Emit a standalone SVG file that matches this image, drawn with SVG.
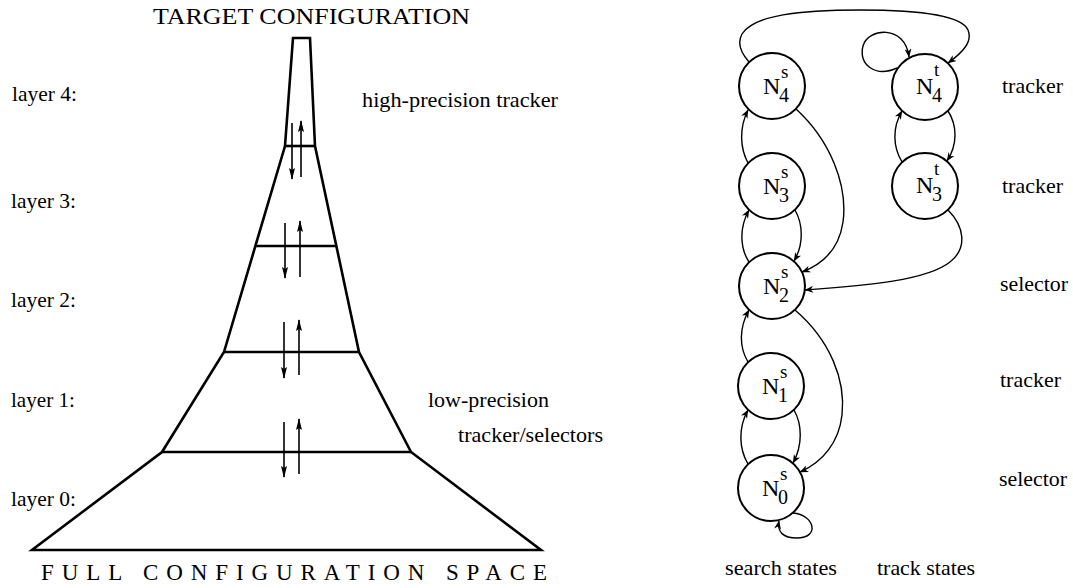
<svg xmlns="http://www.w3.org/2000/svg" width="1073" height="588" viewBox="0 0 1073 588" font-family="'Liberation Serif', 'DejaVu Serif', serif">
<style>
text{font-family:'Liberation Serif','DejaVu Serif',serif;fill:#000}
.lbl{font-size:21px}
.big{font-size:24px}
.sup{font-size:19px}
.sub{font-size:20px}
.node circle{fill:none;stroke:#000;stroke-width:2}
.edge{fill:none;stroke:#000;stroke-width:1.4;marker-end:url(#ah)}
.fun{fill:none;stroke:#000;stroke-width:2.6;stroke-linejoin:miter}
.farr{stroke:#000;stroke-width:1.6;marker-end:url(#fa)}
</style>
<defs>
<marker id="ah" viewBox="0 0 10 8" refX="9.5" refY="4" markerWidth="9" markerHeight="7" orient="auto" markerUnits="userSpaceOnUse"><path d="M0,0 L10,4 L0,8 L3,4 z" fill="#000"/></marker>
<marker id="fa" viewBox="0 0 12 6" refX="11" refY="3" markerWidth="12" markerHeight="6" orient="auto" markerUnits="userSpaceOnUse"><path d="M0,0 L12,3 L0,6 L2,3 z" fill="#000"/></marker>
</defs>
<rect width="1073" height="588" fill="#fff"/>

<g id="funnel">
<text x="153" y="24" font-size="23" textLength="317" lengthAdjust="spacingAndGlyphs">TARGET CONFIGURATION</text>
<polygon class="fun" points="293,38 310,38 315,146 359,352 411,452 541,550 32,550 162,452 224,352 285,146"/>
<line class="fun" x1="285" y1="146" x2="315" y2="146"/>
<line class="fun" x1="255" y1="246" x2="336" y2="246"/>
<line class="fun" x1="224" y1="352" x2="359" y2="352"/>
<line class="fun" x1="162" y1="452" x2="411" y2="452"/>
<line class="farr" x1="292" y1="123" x2="292" y2="179"/>
<line class="farr" x1="301" y1="177" x2="301" y2="121"/>
<line class="farr" x1="285" y1="223" x2="285" y2="278"/>
<line class="farr" x1="300" y1="277" x2="300" y2="221"/>
<line class="farr" x1="284" y1="322" x2="284" y2="378"/>
<line class="farr" x1="299" y1="375" x2="299" y2="320"/>
<line class="farr" x1="284" y1="422" x2="284" y2="477"/>
<line class="farr" x1="299" y1="474" x2="299" y2="419"/>
<text class="lbl" x="12" y="101" textLength="65" lengthAdjust="spacingAndGlyphs">layer 4:</text>
<text class="lbl" x="11" y="208" textLength="65" lengthAdjust="spacingAndGlyphs">layer 3:</text>
<text class="lbl" x="11" y="307" textLength="65" lengthAdjust="spacingAndGlyphs">layer 2:</text>
<text class="lbl" x="11" y="407" textLength="64" lengthAdjust="spacingAndGlyphs">layer 1:</text>
<text class="lbl" x="11" y="506" textLength="65" lengthAdjust="spacingAndGlyphs">layer 0:</text>
<text class="lbl" x="362" y="107" textLength="196" lengthAdjust="spacingAndGlyphs">high-precision tracker</text>
<text class="lbl" x="428" y="407" textLength="121" lengthAdjust="spacingAndGlyphs">low-precision</text>
<text class="lbl" x="458" y="442" textLength="145" lengthAdjust="spacingAndGlyphs">tracker/selectors</text>
<text x="41" y="580" font-size="23" textLength="506" lengthAdjust="spacing">FULL CONFIGURATION SPACE</text>
</g>

<g id="connectors">
<path class="edge" d="M749,62 C741,53 737,43 742,34 C754,15 800,10 860,10 C920,10 962,16 968,30 C973,42 962,53 948,63"/>
<path class="edge" d="M897,68 C875,78 858,64 863,46 C868,28 905,24 909,57"/>
<path class="edge" d="M748,163 C740,148 739,128 748,110"/>
<path class="edge" d="M796,109 C830,140 848,185 843,222 C839,250 823,264 802,272"/>
<path class="edge" d="M795,210 C803,224 804,244 794,261"/>
<path class="edge" d="M749,262 C740,248 739,228 749,210"/>
<path class="edge" d="M948,111 C957,125 958,144 947,161"/>
<path class="edge" d="M902,162 C893,147 892,128 902,111"/>
<path class="edge" d="M948,210 C964,226 968,248 950,262 C925,282 855,286 805,290"/>
<path class="edge" d="M748,362 C739,347 739,328 749,310"/>
<path class="edge" d="M795,310 C830,340 846,380 842,415 C839,442 823,462 800,472"/>
<path class="edge" d="M794,410 C802,424 803,445 793,463"/>
<path class="edge" d="M748,464 C739,449 738,428 748,410"/>
<path class="edge" d="M793,513 C815,515 820,538 797,538 C783,538 777,532 779,521"/>
</g>

<g id="N4s" class="node"><circle cx="772" cy="86" r="33"/><text class="big" x="763" y="94">N</text><text class="sup" x="781" y="78">s</text><text class="sub" x="779" y="102">4</text></g>
<g id="N3s" class="node"><circle cx="772" cy="186" r="33"/><text class="big" x="763" y="194">N</text><text class="sup" x="781" y="178">s</text><text class="sub" x="779" y="202">3</text></g>
<g id="N2s" class="node"><circle cx="772" cy="286" r="33"/><text class="big" x="763" y="294">N</text><text class="sup" x="781" y="278">s</text><text class="sub" x="779" y="302">2</text></g>
<g id="N1s" class="node"><circle cx="771" cy="386" r="33"/><text class="big" x="762" y="394">N</text><text class="sup" x="780" y="378">s</text><text class="sub" x="778" y="402">1</text></g>
<g id="N0s" class="node"><circle cx="771" cy="488" r="33"/><text class="big" x="762" y="496">N</text><text class="sup" x="780" y="480">s</text><text class="sub" x="778" y="504">0</text></g>
<g id="N4t" class="node"><circle cx="925" cy="87" r="33"/><text class="big" x="916" y="94">N</text><text class="sup" x="934" y="76">t</text><text class="sub" x="932" y="102">4</text></g>
<g id="N3t" class="node"><circle cx="925" cy="186" r="33"/><text class="big" x="916" y="193">N</text><text class="sup" x="934" y="175">t</text><text class="sub" x="932" y="201">3</text></g>

<g id="state-labels">
<text class="lbl" x="1002" y="93" textLength="61" lengthAdjust="spacingAndGlyphs">tracker</text>
<text class="lbl" x="1002" y="193" textLength="61" lengthAdjust="spacingAndGlyphs">tracker</text>
<text class="lbl" x="1000" y="291" textLength="68" lengthAdjust="spacingAndGlyphs">selector</text>
<text class="lbl" x="1000" y="387" textLength="61" lengthAdjust="spacingAndGlyphs">tracker</text>
<text class="lbl" x="999" y="486" textLength="68" lengthAdjust="spacingAndGlyphs">selector</text>
<text class="lbl" x="725" y="575" textLength="112" lengthAdjust="spacingAndGlyphs">search states</text>
<text class="lbl" x="877" y="575" textLength="98" lengthAdjust="spacingAndGlyphs">track states</text>
</g>
</svg>
